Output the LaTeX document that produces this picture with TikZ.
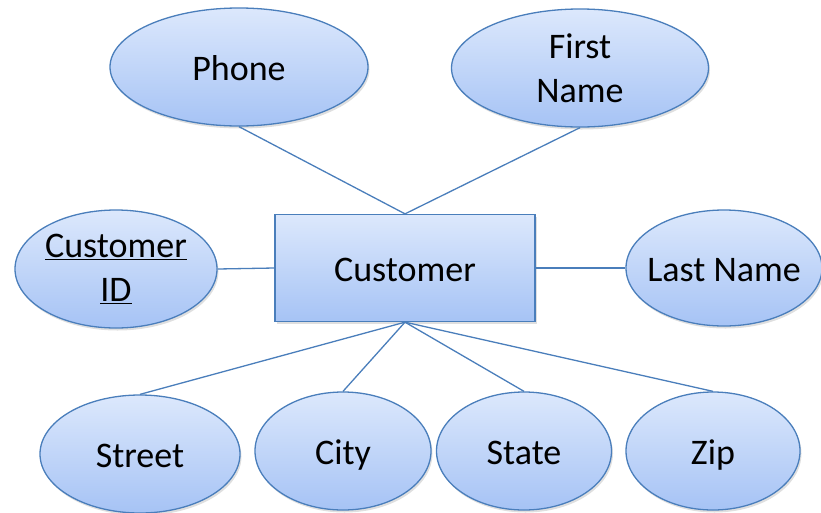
\documentclass[tikz,border=0pt]{standalone}
\usepackage{fontspec}
\setmainfont{Carlito}
\usetikzlibrary{shapes.geometric,shadows}
\definecolor{erline}{HTML}{4A7EBB}
\definecolor{ertop}{HTML}{DCE8FC}
\definecolor{erbottom}{HTML}{A6C3F5}
\begin{document}
\begin{tikzpicture}[x=1pt,y=-1pt,
    font={\fontsize{36}{44}\selectfont},
    base/.style={draw=erline, line width=1.3pt, top color=ertop, bottom color=erbottom,
        drop shadow={opacity=0.25, shadow xshift=1.5pt, shadow yshift=-2.5pt}},
    attr/.style={base, ellipse, inner sep=0pt, align=center, minimum height=118pt},
    oneline/.style={text height=26pt, text depth=0pt},
    entity/.style={base, rectangle, minimum width=260pt, minimum height=107pt},
    link/.style={erline, line width=1.3pt}]
    \useasboundingbox (0,0) rectangle (821,512);

    \node[entity, oneline] (cust) at (405,268) {Customer};

    \node[attr, oneline, minimum width=258pt] (phone) at (239,67) {Phone};
    \node[attr, minimum width=257pt] (first) at (580,68) {First\\Name};
    \node[attr, minimum width=202pt] (cid) at (116,269) {\underline{Customer}\\\underline{ID}};
    \node[attr, oneline, inner xsep=-30pt, minimum width=196pt, minimum height=116pt] (last) at (724,268) {Last Name};

    \node[attr, oneline, minimum width=200pt] (street) at (140,454) {Street};
    \node[attr, oneline, minimum width=176pt] (city) at (343,451) {City};
    \node[attr, oneline, minimum width=175pt] (state) at (524,451) {State};
    \node[attr, oneline, minimum width=174pt] (zip) at (713,451) {Zip};

    % connectors
    \draw[link] (phone.south) -- (cust.north);
    \draw[link] (first.south) -- (cust.north);
    \draw[link] (cid.east) -- (cust.west);
    \draw[link] (cust.east) -- (last.west);
    \foreach \a in {street,city,state,zip}
        \draw[link] (cust.south) -- (\a.north);
\end{tikzpicture}
\end{document}
